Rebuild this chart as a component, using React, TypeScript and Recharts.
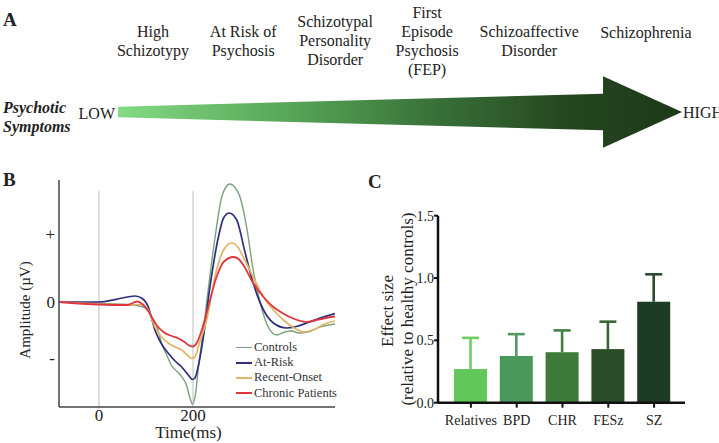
import {
  ComposedChart,
  Area,
  LineChart,
  Line,
  BarChart,
  Bar,
  XAxis,
  YAxis,
  ReferenceLine,
  Legend,
} from "recharts";

const SERIF = "Liberation Serif";
const INK = "#222";

// Panel A: spectrum of conditions along the psychotic-symptom axis (0 = LOW, 100 = HIGH)
const SPECTRUM_LABELS = [
  ["High", "Schizotypy"],
  ["At Risk of", "Psychosis"],
  ["Schizotypal", "Personality", "Disorder"],
  ["First", "Episode", "Psychosis", "(FEP)"],
  ["Schizoaffective", "Disorder"],
  ["Schizophrenia"],
];
const SPECTRUM_POS = [6.2, 22.2, 38.5, 54.8, 72.9, 93.6];

// arrow outline: position along the axis and half thickness
const ARROW_POS = [0, 86, 86, 100];
const ARROW_HALF = [5.3, 18.3, 35.8, 0];

// Panel B: ERP waveforms, [time ms, amplitude]
const CONTROLS = [
  [-85, 0], [0, -0.15], [60, -0.25], [95, -0.5], [112, -1.45], [122, -2.3],
  [133, -4.1], [145, -5.4], [155, -6.4], [165, -6.9], [178, -7.6], [186, -8.3],
  [193, -9.5], [199, -10.2], [205, -9.3], [211, -6.8], [222, -2.8], [233, 1.5],
  [247, 6.5], [261, 10.5], [270, 11.5], [278, 11.8], [290, 11.4], [300, 10.5],
  [314, 7.5], [328, 3.2], [343, -0.1], [360, -2.5], [378, -3.3], [395, -3.0],
  [410, -2.9], [425, -3.1], [445, -3.0], [470, -2.5], [502, -2.2],
];
const AT_RISK = [
  [-85, 0], [0, 0], [37, 0.27], [60, 0.5], [77, 0.6], [92, 0.35], [105, -0.5],
  [119, -2.8], [133, -4.2], [147, -5.1], [162, -5.9], [176, -6.5], [190, -7.3],
  [199, -7.75], [204, -7.6], [213, -6.0], [222, -3.5], [236, 1.5], [254, 6.5],
  [265, 8.4], [277, 8.9], [293, 8.2], [311, 4.9], [328, 1.9], [350, -0.8],
  [371, -2.1], [399, -2.6], [420, -2.45], [442, -2.1], [477, -1.5], [502, -1.15],
];
const RECENT_ONSET = [
  [-85, 0], [0, -0.2], [60, -0.3], [90, -0.25], [105, -0.8], [119, -2.5],
  [133, -3.5], [147, -4.1], [162, -4.5], [176, -4.8], [190, -5.4], [197, -5.65],
  [204, -5.5], [213, -4.2], [229, -1.8], [250, 3.2], [265, 5.2], [282, 5.9],
  [295, 5.5], [307, 4.5], [328, 2.5], [350, 0.5], [371, -0.8], [395, -1.9],
  [415, -2.6], [435, -3.0], [455, -2.8], [480, -2.2], [502, -1.9],
];
const CHRONIC = [
  [-85, 0], [0, -0.25], [60, -0.3], [72, -0.1], [82, 0.05], [92, -0.2],
  [105, -0.9], [119, -2.1], [140, -3.1], [155, -3.4], [169, -3.65], [182, -4.0],
  [190, -4.3], [199, -4.45], [208, -4.1], [218, -2.9], [229, -1.1], [250, 2.5],
  [265, 4.0], [286, 4.5], [297, 4.3], [307, 3.7], [328, 1.9], [350, 0.5],
  [371, -0.5], [390, -1.1], [406, -1.5], [425, -1.85], [442, -2.0], [460, -1.85],
  [477, -1.65], [502, -1.45],
];
const TIME_TICKS = [0, 200];
const AMP_TICKS = [-5.6, 0, 6.8];
const AMP_TICK_LABELS = ["-", "0", "+"];

// Panel C: effect sizes relative to healthy controls
const GROUPS = ["Relatives", "BPD", "CHR", "FESz", "SZ"];
const EFFECT = [0.27, 0.375, 0.405, 0.43, 0.81];
const EFFECT_UPPER = [0.52, 0.55, 0.58, 0.65, 1.03];
const EFFECT_TICKS = [0, 0.5, 1, 1.5];

const BAR_COLORS = ["#63c85b", "#4a985c", "#3e7b3b", "#2c4d29", "#1e3b25"];
const ERR_COLORS = ["#6dcf62", "#4f9a5e", "#41803f", "#3a653a", "#2d4a31"];

const SERIES = [
  { name: "Controls", data: CONTROLS, color: "#7ba17d", width: 1.4 },
  { name: "At-Risk", data: AT_RISK, color: "#2e2f7e", width: 1.7 },
  { name: "Recent-Onset", data: RECENT_ONSET, color: "#e4b466", width: 1.7 },
  { name: "Chronic Patients", data: CHRONIC, color: "#e2363c", width: 1.8 },
];

const toPoints = (rows: number[][]) => rows.map(([t, a]) => ({ t, a }));

function SpectrumTick(props: any) {
  const { x, index } = props;
  const lines = SPECTRUM_LABELS[index] || [];
  const first = lines.length === 1 ? 33 : 41 - ((lines.length - 1) * 19) / 2;
  return (
    <text textAnchor="middle" fontSize={16} fill={INK} fontFamily={SERIF}>
      {lines.map((l, i) => (
        <tspan key={i} x={x} y={first + i * 19} dy="0.34em">
          {l}
        </tspan>
      ))}
    </text>
  );
}

function EffectBar(props: any) {
  const { x, y, width, height, index, payload } = props;
  const pxPerUnit = height / payload.value;
  const errY = y + height - payload.upper * pxPerUnit;
  const cx = x + width / 2;
  return (
    <g>
      <rect x={x} y={y} width={width} height={height} fill={BAR_COLORS[index]} />
      <line x1={cx} x2={cx} y1={y} y2={errY} stroke={ERR_COLORS[index]} strokeWidth={2.6} />
      <line x1={cx - 8.5} x2={cx + 8.5} y1={errY} y2={errY} stroke={ERR_COLORS[index]} strokeWidth={2.6} />
    </g>
  );
}

function WaveLegend() {
  return (
    <div style={{ fontFamily: SERIF, fontSize: 12.5, color: "#333" }}>
      {SERIES.map((s) => (
        <div key={s.name} style={{ display: "flex", alignItems: "center", height: 15.2 }}>
          <span style={{ display: "inline-block", width: 16, height: 1.6, background: s.color, marginRight: 2 }} />
          <span style={{ lineHeight: "15px" }}>{s.name}</span>
        </div>
      ))}
    </div>
  );
}

export default function App() {
  const arrowData = ARROW_POS.map((pos, i) => ({ pos, band: [-ARROW_HALF[i], ARROW_HALF[i]] }));
  const barData = GROUPS.map((name, i) => ({ name, value: EFFECT[i], upper: EFFECT_UPPER[i] }));

  return (
    <div
      style={{
        position: "absolute",
        left: 0,
        top: 0,
        width: 719,
        height: 443,
        background: "#fff",
        overflow: "hidden",
        fontFamily: SERIF,
      }}
    >
      {/* A */}
      <div style={{ position: "absolute", left: 0, top: 0 }}>
        <ComposedChart width={719} height={160} data={arrowData} margin={{ top: 0, right: 37, bottom: 0, left: 118 }}>
          <defs>
            <linearGradient id="arrowFill" x1="0" y1="0" x2="1" y2="0">
              <stop offset="0%" stopColor="#84d984" />
              <stop offset="30%" stopColor="#58a658" />
              <stop offset="55%" stopColor="#3a733a" />
              <stop offset="80%" stopColor="#25461f" />
              <stop offset="100%" stopColor="#1e381b" />
            </linearGradient>
          </defs>
          <XAxis
            type="number"
            dataKey="pos"
            domain={[0, 100]}
            orientation="top"
            height={1}
            ticks={SPECTRUM_POS}
            interval={0}
            axisLine={false}
            tickLine={false}
            tick={SpectrumTick}
          />
          <YAxis hide type="number" domain={[-48, 111]} />
          <Area type="linear" dataKey="band" stroke="none" fill="url(#arrowFill)" fillOpacity={1} isAnimationActive={false} />
        </ComposedChart>
      </div>

      {/* B */}
      <div style={{ position: "absolute", left: 0, top: 165 }}>
        <LineChart width={360} height={278} margin={{ top: 15, right: 25, bottom: 4, left: 29 }}>
          <XAxis
            type="number"
            dataKey="t"
            domain={[-85, 502]}
            allowDataOverflow
            ticks={TIME_TICKS}
            height={32}
            tickLine={false}
            tickSize={0}
            tickMargin={2}
            stroke="#444"
            strokeWidth={1.5}
            tick={{ fontSize: 17, fill: INK, fontFamily: SERIF }}
          />
          <YAxis
            type="number"
            domain={[-10.5, 12.2]}
            allowDataOverflow
            ticks={AMP_TICKS}
            width={30}
            tickLine={false}
            tickSize={0}
            tickMargin={4}
            stroke="#444"
            strokeWidth={1.5}
            tickFormatter={(v: number) => AMP_TICK_LABELS[AMP_TICKS.indexOf(v)] ?? ""}
            tick={{ fontSize: 17, fill: INK, fontFamily: SERIF }}
          />
          {TIME_TICKS.map((t) => (
            <ReferenceLine
              key={t}
              segment={[{ x: t, y: 11.1 }, { x: t, y: -10.5 }]}
              stroke="#c9c9c9"
              strokeWidth={1.2}
            />
          ))}
          {SERIES.map((s) => (
            <Line
              key={s.name}
              name={s.name}
              data={toPoints(s.data)}
              dataKey="a"
              type="monotone"
              stroke={s.color}
              strokeWidth={s.width}
              dot={false}
              activeDot={false}
              isAnimationActive={false}
            />
          ))}
          <Legend
            layout="vertical"
            align="center"
            verticalAlign="middle"
            content={WaveLegend}
            wrapperStyle={{ left: 236, top: 175, width: "auto", height: "auto" }}
          />
        </LineChart>
      </div>

      {/* C */}
      <div style={{ position: "absolute", left: 360, top: 165 }}>
        <BarChart width={359} height={278} data={barData} margin={{ top: 50.7, right: 34, bottom: 10.3, left: 38 }}>
          <XAxis
            dataKey="name"
            height={30}
            padding={{ left: 10, right: 8 }}
            interval={0}
            stroke="#111"
            strokeWidth={2.5}
            tickSize={5}
            tickMargin={7}
            tickLine={{ stroke: "#111", strokeWidth: 2 }}
            tick={{ fontSize: 14, fill: INK, fontFamily: SERIF }}
          />
          <YAxis
            type="number"
            domain={[0, 1.5]}
            ticks={EFFECT_TICKS}
            width={40}
            stroke="#111"
            strokeWidth={2.5}
            tickSize={4}
            tickMargin={0}
            tickLine={{ stroke: "#111", strokeWidth: 2 }}
            tickFormatter={(v: number) => v.toFixed(1)}
            tick={{ fontSize: 14, fill: INK, fontFamily: SERIF }}
          />
          <Bar dataKey="value" barSize={33} shape={EffectBar} isAnimationActive={false} />
        </BarChart>
      </div>

      {/* free text */}
      <svg
        width={719}
        height={443}
        style={{ position: "absolute", left: 0, top: 0, pointerEvents: "none" }}
        fill={INK}
      >
        <g fontFamily={SERIF}>
          <text x={3} y={26} fontSize={19} fontWeight="bold">A</text>
          <text x={3} y={113} fontSize={16} fontWeight="bold" fontStyle="italic">Psychotic</text>
          <text x={3} y={131.5} fontSize={16} fontWeight="bold" fontStyle="italic">Symptoms</text>
          <text x={115} y={118.5} fontSize={16} textAnchor="end">LOW</text>
          <text x={683} y={118} fontSize={16}>HIGH</text>

          <text x={3} y={186} fontSize={19} fontWeight="bold">B</text>
          <text x={188.5} y={437.5} fontSize={17} textAnchor="middle">Time(ms)</text>
          <text x={30} y={310} fontSize={15} textAnchor="middle" transform="rotate(-90 30 310)">
            Amplitude (µV)
          </text>

          <text x={368} y={187.5} fontSize={19} fontWeight="bold">C</text>
          <text x={393} y={311} fontSize={17} textAnchor="middle" transform="rotate(-90 393 311)">
            Effect size
          </text>
          <text x={412.5} y={309} fontSize={17} textAnchor="middle" transform="rotate(-90 412.5 309)">
            (relative to healthy controls)
          </text>
        </g>
      </svg>
    </div>
  );
}
